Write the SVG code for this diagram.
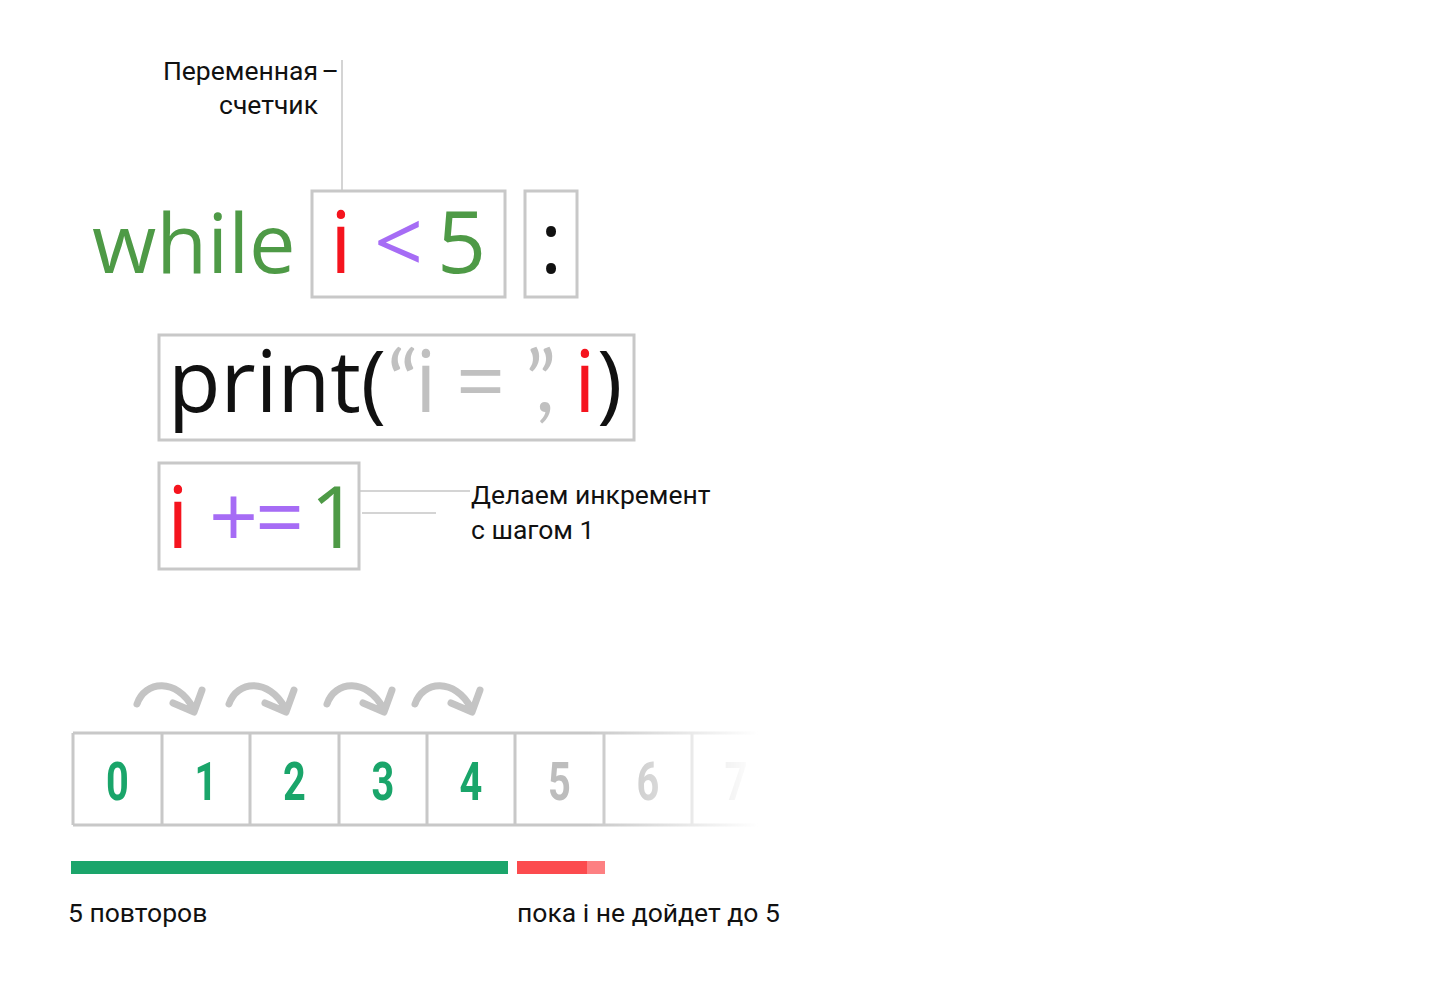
<svg xmlns="http://www.w3.org/2000/svg" width="1440" height="990" viewBox="0 0 1440 990">
  <style>
    .box { fill: none; stroke: #c8c8c8; stroke-width: 3; }
    .lead { stroke: #d4d4d4; stroke-width: 2; fill: none; }
    .code { font-family: "Open Sans", "Noto Sans", sans-serif; font-weight: 400; }
    .quote { font-family: "Lato", "Open Sans", sans-serif; }
    .lbl { font-family: "Roboto", "Liberation Sans", sans-serif; font-size: 26.5px; font-weight: 400; fill: #111; }
    .green { fill: #4e9a46; }
    .red { fill: #f5141e; }
    .purple { fill: #a66cf5; }
    .gray { fill: #c0c0c0; }
    .blk { fill: #111; }
    .cell { stroke: #c8c8c8; stroke-width: 3; fill: none; }
    .dig { font-family: "Roboto", "Liberation Sans", sans-serif; font-weight: 700; font-size: 53px; text-anchor: middle; }
    .dg { fill: #1aa56a; }
    .dx { fill: #bdbdbd; }
    .arr { fill: none; stroke: #c4c4c4; stroke-width: 7; stroke-linecap: round; stroke-linejoin: round; }
  </style>
  <defs>
    <linearGradient id="fadeG" gradientUnits="userSpaceOnUse" x1="588" y1="0" x2="758" y2="0">
      <stop offset="0" stop-color="#fff" stop-opacity="1"/>
      <stop offset="1" stop-color="#fff" stop-opacity="0"/>
    </linearGradient>
    <mask id="fade" maskUnits="userSpaceOnUse" x="0" y="700" width="900" height="160">
      <rect x="0" y="700" width="588" height="160" fill="#fff"/>
      <rect x="588" y="700" width="312" height="160" fill="url(#fadeG)"/>
    </mask>
    <path id="curArrow" d="M0,0 C8,-24 40,-26 56,4 M36,-1 L57,8 L65,-14"/>
  </defs>
  <rect width="1440" height="990" fill="#fff"/>

  <g id="connectors">
    <line class="lead" x1="342" y1="60" x2="342" y2="190"/>
    <line class="lead" x1="360" y1="491" x2="470" y2="491"/>
    <line class="lead" x1="362" y1="513" x2="436" y2="513"/>
  </g>

  <g id="label-counter">
    <text class="lbl" x="318" y="80" text-anchor="end">Переменная</text>
    <text class="lbl" x="339" y="80" text-anchor="end">–</text>
    <text class="lbl" x="318" y="114" text-anchor="end">счетчик</text>
  </g>

  <g id="while-line">
    <text class="code green" x="92" y="273" font-size="83">while</text>
  </g>
  <g id="condition">
    <rect class="box" x="312" y="191" width="193" height="106"/>
    <text class="code" y="273" font-size="86"><tspan class="red" x="330">i</tspan><tspan class="purple" x="374">&lt;</tspan><tspan class="green" x="437">5</tspan></text>
  </g>
  <g id="colon">
    <rect class="box" x="525" y="191" width="52" height="106"/>
    <text class="code blk" x="551" y="273" font-size="86" text-anchor="middle">:</text>
  </g>

  <g id="print-stmt">
    <rect class="box" x="159" y="335" width="475" height="105"/>
    <text class="code" y="412" font-size="86"><tspan class="blk" x="168">print(</tspan><tspan class="gray quote" x="387" letter-spacing="-9">“</tspan><tspan class="gray" x="415">i</tspan><tspan class="gray" x="456">=</tspan><tspan class="gray quote" x="525" letter-spacing="-12">”,</tspan><tspan class="red" x="574">i</tspan><tspan class="blk" x="597">)</tspan></text>
  </g>

  <g id="increment">
    <rect class="box" x="159" y="463" width="200" height="106"/>
    <text class="code" y="548" font-size="86"><tspan class="red" x="167">i</tspan><tspan class="purple" x="209">+</tspan><tspan class="purple" x="255">=</tspan><tspan class="green" x="310">1</tspan></text>
  </g>

  <g id="label-increment">
    <text class="lbl" x="471" y="504">Делаем инкремент</text>
    <text class="lbl" x="471" y="539">с шагом 1</text>
  </g>

  <g id="arrows">
    <use href="#curArrow" class="arr" transform="translate(137,704)"/>
    <use href="#curArrow" class="arr" transform="translate(229,704)"/>
    <use href="#curArrow" class="arr" transform="translate(327,704)"/>
    <use href="#curArrow" class="arr" transform="translate(415,704)"/>
  </g>

  <g id="cells" mask="url(#fade)">
    <path class="cell" d="M73,733 H770 M73,825 H770 M73,733 V825 M162,733 V825 M250,733 V825 M339,733 V825 M427,733 V825 M515,733 V825 M604,733 V825 M692,733 V825"/>
    <g class="dig">
      <text class="dg" transform="translate(117.5,800) scale(0.75,1)">0</text>
      <text class="dg" transform="translate(206,800) scale(0.75,1)">1</text>
      <text class="dg" transform="translate(294.5,800) scale(0.75,1)">2</text>
      <text class="dg" transform="translate(383,800) scale(0.75,1)">3</text>
      <text class="dg" transform="translate(471,800) scale(0.75,1)">4</text>
      <text class="dx" transform="translate(559.5,800) scale(0.75,1)">5</text>
      <text class="dx" transform="translate(648,800) scale(0.75,1)">6</text>
      <text class="dx" transform="translate(736,800) scale(0.75,1)">7</text>
    </g>
  </g>

  <g id="bars">
    <rect x="71" y="861" width="437" height="13" fill="#1ba56b"/>
    <rect x="517" y="861" width="70" height="13" fill="#fc4b4e"/>
    <rect x="587" y="861" width="18" height="13" fill="#fd8082"/>
  </g>

  <g id="bottom-labels">
    <text class="lbl" x="68" y="922">5 повторов</text>
    <text class="lbl" x="517" y="922">пока i не дойдет до 5</text>
  </g>
</svg>
